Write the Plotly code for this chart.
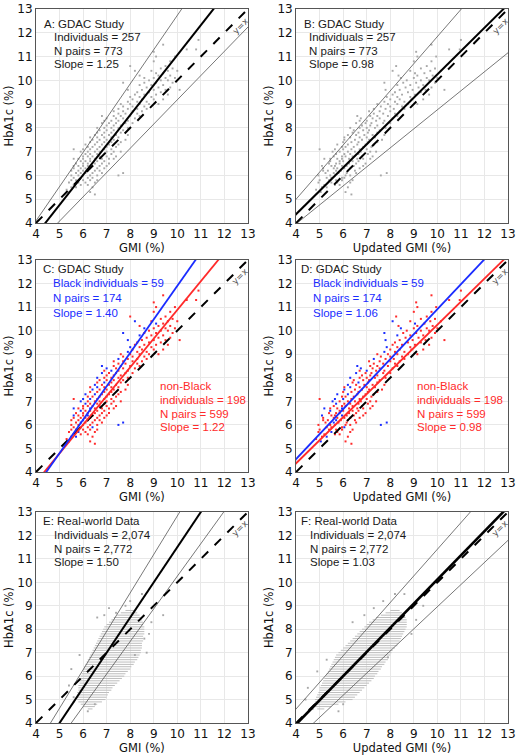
import plotly.graph_objects as go

# ---------------- GDAC study data (HbA1c %, GMI %, updated GMI %, Black flag) ----------------
gdac_hba1c = [
    5.2,
    5.3, 5.3,
    5.4,
    5.5, 5.5, 5.5,
    5.6, 5.6, 5.6,
    5.7, 5.7, 5.7, 5.7,
    5.8, 5.8, 5.8, 5.8, 5.8,
    5.9, 5.9, 5.9, 5.9,
    6.0, 6.0, 6.0, 6.0, 6.0, 6.0,
    6.1, 6.1, 6.1, 6.1, 6.1, 6.1,
    6.2, 6.2, 6.2, 6.2, 6.2, 6.2,
    6.3, 6.3, 6.3, 6.3, 6.3, 6.3,
    6.4, 6.4, 6.4, 6.4, 6.4, 6.4, 6.4,
    6.5, 6.5, 6.5, 6.5, 6.5, 6.5,
    6.6, 6.6, 6.6, 6.6, 6.6,
    6.7, 6.7, 6.7, 6.7, 6.7, 6.7, 6.7, 6.7,
    6.8, 6.8, 6.8, 6.8, 6.8, 6.8,
    6.9, 6.9, 6.9, 6.9, 6.9,
    7.0, 7.0, 7.0, 7.0, 7.0, 7.0, 7.0,
    7.1, 7.1, 7.1, 7.1, 7.1, 7.1,
    7.2, 7.2, 7.2, 7.2, 7.2,
    7.3, 7.3, 7.3, 7.3, 7.3,
    7.4, 7.4, 7.4, 7.4, 7.4,
    7.5, 7.5, 7.5, 7.5, 7.5,
    7.6, 7.6, 7.6, 7.6, 7.6,
    7.7, 7.7, 7.7, 7.7, 7.7,
    7.8, 7.8, 7.8, 7.8,
    7.9, 7.9, 7.9, 7.9,
    8.0, 8.0, 8.0, 8.0, 8.0,
    8.1, 8.1, 8.1,
    8.2, 8.2, 8.2, 8.2, 8.2,
    8.3, 8.3, 8.3, 8.3,
    8.4, 8.4, 8.4, 8.4,
    8.5, 8.5, 8.5, 8.5, 8.5,
    8.6, 8.6, 8.6,
    8.7, 8.7, 8.7, 8.7,
    8.8, 8.8, 8.8, 8.8,
    8.9, 8.9, 8.9,
    9.0, 9.0, 9.0, 9.0, 9.0,
    9.1, 9.1, 9.1,
    9.2, 9.2, 9.2, 9.2,
    9.3, 9.3, 9.3,
    9.4, 9.4, 9.4, 9.4,
    9.5, 9.5, 9.5,
    9.6, 9.6, 9.6, 9.6, 9.6,
    9.7, 9.7, 9.7,
    9.8, 9.8, 9.8,
    9.9, 9.9, 9.9, 9.9,
    10.0, 10.0, 10.0,
    10.1, 10.1, 10.1, 10.1,
    10.2, 10.2, 10.2,
    10.3, 10.3,
    10.4, 10.4, 10.4, 10.4,
    10.5, 10.5,
    10.6, 10.6,
    10.8, 10.8,
    11.0, 11.0,
    11.2,
    11.3, 11.3,
    11.5,
    11.7,
]
gdac_gmi = [
    6.5,
    5.4, 6.3,
    5.3,
    5.5, 6.4, 5.7,
    5.6, 5.9, 6.2,
    5.4, 5.8, 6.1, 6.5,
    5.5, 5.7, 6.0, 6.3, 6.6,
    5.6, 5.9, 6.2, 6.4,
    5.5, 5.8, 6.0, 6.3, 6.6, 7.5,
    5.7, 5.9, 6.1, 6.4, 6.8, 7.7,
    5.5, 5.8, 6.0, 6.2, 6.5, 6.7,
    5.6, 5.9, 6.1, 6.3, 6.6, 6.9,
    5.6, 5.8, 6.0, 6.2, 6.4, 6.7, 7.0,
    5.7, 6.0, 6.2, 6.5, 6.8, 7.1,
    5.9, 6.1, 6.3, 6.6, 6.9,
    5.6, 5.8, 6.0, 6.3, 6.5, 6.8, 7.1, 7.3,
    6.0, 6.2, 6.4, 6.7, 7.0, 7.4,
    6.1, 6.3, 6.6, 6.9, 7.2,
    5.9, 6.2, 6.5, 6.7, 7.0, 7.3, 7.6,
    5.6, 6.0, 6.3, 6.6, 6.9, 7.2,
    6.2, 6.4, 6.7, 7.0, 7.4,
    6.1, 6.5, 6.8, 7.1, 7.5,
    6.3, 6.6, 6.9, 7.2, 7.6,
    6.4, 6.7, 7.0, 7.3, 7.8,
    6.3, 6.6, 6.9, 7.2, 7.5,
    6.5, 6.8, 7.1, 7.4, 7.9,
    6.6, 6.9, 7.2, 7.6,
    6.7, 7.0, 7.3, 7.7,
    6.6, 6.9, 7.2, 7.5, 7.9,
    7.0, 7.3, 7.6,
    6.8, 7.1, 7.4, 7.8, 8.1,
    6.9, 7.2, 7.5, 7.9,
    7.0, 7.4, 7.7, 8.2,
    6.8, 7.3, 7.6, 8.0, 8.4,
    7.5, 7.8, 8.3,
    7.3, 7.7, 8.1, 8.5,
    7.5, 7.9, 8.3, 8.7,
    7.7, 8.1, 8.6,
    7.6, 8.0, 8.4, 8.8, 9.2,
    7.9, 8.3, 8.7,
    8.1, 8.5, 9.0, 9.4,
    8.0, 8.4, 8.9,
    8.2, 8.6, 9.1, 9.6,
    8.3, 8.8, 9.3,
    7.9, 8.5, 9.0, 9.5, 10.1,
    8.7, 9.2, 9.7,
    8.4, 8.9, 9.4,
    7.7, 8.6, 9.1, 9.8,
    8.8, 9.3, 9.6,
    8.6, 9.0, 9.5, 9.9,
    8.4, 9.2, 9.7,
    9.1, 9.4,
    8.2, 8.9, 9.6, 10.0,
    9.3, 9.8,
    8.0, 9.5,
    9.0, 9.7,
    9.1, 9.9,
    9.0,
    10.4, 10.8,
    9.4,
    10.9,
]
gdac_updated_gmi = [
    6.35,
    5.05, 6.10,
    4.85,
    5.10, 6.20, 5.30,
    5.20, 5.65, 5.85,
    4.95, 5.50, 5.75, 6.30,
    5.00, 5.40, 5.70, 5.95, 6.40,
    5.30, 5.50, 5.95, 6.05,
    4.95, 5.45, 5.65, 6.10, 6.30, 7.60,
    5.25, 5.60, 5.80, 6.15, 6.55, 7.85,
    5.15, 5.35, 5.70, 5.90, 6.20, 6.50,
    5.15, 5.60, 5.75, 6.05, 6.30, 6.70,
    5.10, 5.50, 5.65, 5.95, 6.15, 6.45, 6.85,
    5.40, 5.70, 5.85, 6.25, 6.55, 6.95,
    5.45, 5.85, 6.00, 6.40, 6.65,
    5.20, 5.45, 5.75, 5.95, 6.25, 6.60, 6.85, 7.15,
    5.60, 5.95, 6.10, 6.40, 6.80, 7.25,
    5.70, 6.05, 6.30, 6.65, 7.05,
    5.55, 5.85, 6.20, 6.50, 6.75, 7.15, 7.40,
    5.00, 5.65, 6.00, 6.35, 6.70, 7.00,
    5.95, 6.10, 6.45, 6.85, 7.20,
    5.75, 6.20, 6.60, 6.95, 7.30,
    6.00, 6.35, 6.65, 7.05, 7.45,
    6.05, 6.50, 6.80, 7.10, 7.65,
    6.05, 6.30, 6.70, 7.00, 7.35,
    6.20, 6.55, 6.90, 7.25, 7.75,
    6.40, 6.65, 7.05, 7.45,
    6.45, 6.85, 7.10, 7.55,
    6.30, 6.70, 7.00, 7.35, 7.80,
    6.80, 7.15, 7.45,
    6.55, 6.95, 7.20, 7.70, 8.00,
    6.70, 7.00, 7.40, 7.75,
    6.75, 7.25, 7.55, 8.10,
    6.60, 7.15, 7.45, 7.90, 8.30,
    7.30, 7.70, 8.20,
    7.10, 7.55, 8.00, 8.40,
    7.30, 7.80, 8.15, 8.60,
    7.60, 8.00, 8.50,
    7.45, 7.90, 8.30, 8.75, 9.15,
    7.75, 8.20, 8.60,
    8.00, 8.40, 8.90, 9.40,
    7.85, 8.30, 8.85,
    8.10, 8.50, 9.05, 9.65,
    8.20, 8.75, 9.30,
    7.80, 8.40, 8.95, 9.50, 10.30,
    8.65, 9.20, 9.75,
    8.30, 8.85, 9.40,
    7.75, 8.55, 9.10, 9.90,
    8.70, 9.30, 9.65,
    8.45, 9.00, 9.55, 10.00,
    8.35, 9.15, 9.80,
    9.05, 9.45,
    8.10, 8.85, 9.70, 10.15,
    9.30, 9.90,
    8.25, 9.55,
    9.00, 9.75,
    9.15, 9.95,
    9.10,
    10.50, 10.95,
    9.75,
    11.00,
]
gdac_black = [
    0,
    1, 0,
    0,
    0, 0, 1,
    0, 0, 0,
    0, 1, 0, 0,
    0, 0, 0, 0, 0,
    0, 0, 0, 1,
    0, 0, 0, 0, 0, 1,
    0, 1, 0, 0, 0, 1,
    0, 0, 1, 0, 0, 0,
    0, 0, 0, 0, 0, 0,
    1, 0, 0, 1, 0, 0, 0,
    0, 0, 0, 0, 0, 0,
    1, 0, 0, 0, 0,
    1, 0, 0, 1, 0, 0, 0, 0,
    0, 0, 0, 0, 0, 0,
    1, 0, 0, 0, 0,
    1, 0, 0, 0, 0, 0, 0,
    0, 1, 1, 0, 0, 0,
    0, 0, 0, 0, 0,
    1, 1, 0, 0, 0,
    0, 0, 0, 0, 0,
    1, 0, 0, 0, 0,
    0, 1, 0, 0, 0,
    1, 0, 0, 0, 0,
    0, 1, 0, 0,
    0, 0, 0, 0,
    1, 0, 0, 0, 0,
    0, 0, 0,
    1, 0, 0, 0, 0,
    0, 1, 0, 0,
    1, 0, 0, 0,
    1, 0, 0, 0, 0,
    0, 0, 0,
    0, 0, 0, 0,
    1, 0, 0, 0,
    0, 0, 0,
    0, 0, 0, 0, 0,
    1, 0, 0,
    0, 0, 0, 0,
    1, 0, 0,
    0, 0, 0, 0,
    0, 0, 0,
    1, 0, 0, 0, 0,
    0, 0, 0,
    1, 0, 0,
    1, 0, 0, 0,
    0, 0, 0,
    1, 0, 0, 0,
    0, 0, 0,
    1, 0,
    1, 0, 0, 0,
    0, 0,
    0, 0,
    0, 0,
    0, 0,
    0,
    0, 0,
    0,
    0,
]

# ---------------- Real-world data: HbA1c rows (0.1 % steps) and their x extents ----------------
rw_rows = [4.6, 4.7, 4.8, 4.9, 5.0, 5.1, 5.2, 5.3, 5.4, 5.5, 5.6, 5.7, 5.8, 5.9,
           6.0, 6.1, 6.2, 6.3, 6.4, 6.5, 6.6, 6.7, 6.8, 6.9, 7.0, 7.1, 7.2, 7.3,
           7.4, 7.5, 7.6, 7.7, 7.8, 7.9, 8.0, 8.1, 8.2, 8.3, 8.4, 8.5, 8.6, 8.7, 8.8]
rw_gmi_min = [6.2, 6.0, 5.9, 5.8, 5.75, 5.75, 5.75, 5.75, 5.8, 5.8, 5.8, 5.85, 5.85, 5.9,
              5.9, 5.95, 6.0, 6.0, 6.05, 6.1, 6.15, 6.2, 6.25, 6.3, 6.35, 6.4, 6.45, 6.5,
              6.55, 6.6, 6.65, 6.7, 6.75, 6.8, 6.85, 6.9, 7.0, 7.1, 7.2, 7.3, 7.45, 7.6, 7.8]
rw_gmi_max = [6.4, 6.5, 6.6, 6.8, 6.95, 7.0, 7.05, 7.1, 7.2, 7.25, 7.35, 7.45, 7.55, 7.65,
              7.75, 7.8, 7.9, 8.0, 8.05, 8.15, 8.2, 8.3, 8.35, 8.4, 8.45, 8.45, 8.5, 8.5,
              8.5, 8.55, 8.55, 8.55, 8.6, 8.6, 8.6, 8.6, 8.55, 8.55, 8.5, 8.45, 8.4, 8.3, 8.2]
rw_upd_min = [4.9, 4.8, 4.8, 4.8, 4.8, 4.85, 4.9, 4.95, 5.0, 5.0, 5.05, 5.1, 5.15, 5.2,
              5.25, 5.3, 5.35, 5.4, 5.45, 5.5, 5.55, 5.6, 5.65, 5.7, 5.8, 5.9, 6.0, 6.1,
              6.2, 6.3, 6.4, 6.5, 6.6, 6.7, 6.8, 6.9, 7.0, 7.1, 7.25, 7.4, 7.6, 7.8, 8.0]
rw_upd_max = [5.2, 5.5, 5.8, 6.1, 6.4, 6.5, 6.6, 6.7, 6.8, 6.9, 7.0, 7.1, 7.2, 7.3,
              7.35, 7.45, 7.5, 7.6, 7.65, 7.75, 7.8, 7.9, 7.95, 8.0, 8.05, 8.1, 8.2, 8.3,
              8.35, 8.4, 8.45, 8.5, 8.55, 8.6, 8.65, 8.7, 8.7, 8.7, 8.7, 8.65, 8.6, 8.5, 8.4]
rw_sparse_gmi = [5.4, 5.5, 5.6, 5.85, 6.6, 6.9, 7.1, 7.4, 8.0, 8.5, 8.7, 8.8, 8.9, 9.4, 6.5, 7.8, 5.6, 6.2, 8.6, 8.2]
rw_sparse_gmi_h = [5.6, 6.3, 5.1, 6.9, 8.5, 8.6, 8.9, 8.7, 9.2, 9.5, 7.0, 7.8, 8.3, 8.6, 4.8, 9.0, 4.9, 4.5, 7.6, 6.9]
rw_sparse_upd = [4.4, 4.5, 4.7, 4.9, 5.3, 6.4, 6.9, 7.3, 7.7, 8.2, 8.6, 8.9, 9.1, 9.4, 6.0, 7.9, 5.8]
rw_sparse_upd_h = [5.0, 5.5, 4.6, 6.2, 6.7, 8.3, 8.6, 8.9, 9.2, 9.5, 9.5, 7.8, 8.4, 9.0, 4.8, 6.8, 4.5]

# ---------------- Fitted lines: [slope, intercept] ----------------
fit_A = [1.26, -1.54]; upper_A = [1.44, -1.67]; lower_A = [1.02, -1.02]
fit_B = [0.98, 0.45];  upper_B = [1.14, 0.44];  lower_B = [0.80, 0.76]
fit_C_black = [1.42, -2.30]; fit_C_nonblack = [1.218, -1.30]
fit_D_black = [1.06, 0.31];  fit_D_nonblack = [0.98, 0.45]
fit_E = [1.50, -3.50]; upper_E = [1.64, -3.57]; lower_E = [1.39, -3.64]
fit_F = [1.03, -0.18]; upper_F = [1.135, 0.06]; lower_F = [0.944, -0.48]

axis_range = [4, 13]
tick_vals = [4, 5, 6, 7, 8, 9, 10, 11, 12, 13]

BLUE = "#1a2cff"
RED = "#ff2a2a"
GREY_PT = "#a8a8a8"
TXT = "#1a1a1a"
TXT_FONT = "Liberation Sans"

fig = go.Figure()

xdoms = [[0.0, 0.449], [0.551, 1.0]]
ydoms = [[0.7003, 1.0], [0.3515, 0.6485], [0.0, 0.2955]]
panels = []
idx = 0
for r in range(3):
    for c in range(2):
        idx += 1
        panels.append((idx, xdoms[c], ydoms[r], "GMI (%)" if c == 0 else "Updated GMI (%)"))


def ax(i):
    return ("x" if i == 1 else f"x{i}"), ("y" if i == 1 else f"y{i}")


def add_line(i, coef, color, width, dash="solid"):
    xa, ya = ax(i)
    xs = [3.0, 14.0]
    ys = [coef[0] * v + coef[1] for v in xs]
    fig.add_trace(go.Scatter(x=xs, y=ys, mode="lines", xaxis=xa, yaxis=ya,
                             line=dict(color=color, width=width, dash=dash),
                             hoverinfo="skip", showlegend=False))


def add_identity(i):
    xa, ya = ax(i)
    fig.add_trace(go.Scatter(x=axis_range, y=axis_range, mode="lines", xaxis=xa, yaxis=ya,
                             line=dict(color="black", width=2, dash="dash"),
                             hoverinfo="skip", showlegend=False))
    fig.add_annotation(x=12.68, y=12.3, xref=xa, yref=ya, text="y=x", showarrow=False,
                       textangle=-45, borderpad=0,
                       font=dict(family="DejaVu Sans", size=9, color="#555"))


def add_points(i, xs, ys, color, size=2.0):
    xa, ya = ax(i)
    fig.add_trace(go.Scatter(x=xs, y=ys, mode="markers", xaxis=xa, yaxis=ya,
                             marker=dict(color=color, size=size, symbol="square", line=dict(width=0)),
                             hoverinfo="skip", showlegend=False))


def add_rows(i, rows, xmin, xmax):
    xa, ya = ax(i)
    xs, ys = [], []
    for h, a, b in zip(rows, xmin, xmax):
        xs += [a, b, None]
        ys += [h, h, None]
    fig.add_trace(go.Scatter(x=xs, y=ys, mode="lines", xaxis=xa, yaxis=ya,
                             line=dict(color="#bdbdbd", width=1),
                             hoverinfo="skip", showlegend=False))


def add_text(i, xr, yr, text, color=TXT, size=11.5):
    xa, ya = ax(i)
    fig.add_annotation(x=xr, y=yr, xref=f"{xa} domain", yref=f"{ya} domain", text=text,
                       showarrow=False, xanchor="left", yanchor="middle", borderpad=0,
                       font=dict(family=TXT_FONT, size=size, color=color))


blk_gmi = [g for g, b in zip(gdac_gmi, gdac_black) if b == 1]
blk_upd = [g for g, b in zip(gdac_updated_gmi, gdac_black) if b == 1]
blk_h = [h for h, b in zip(gdac_hba1c, gdac_black) if b == 1]
nb_gmi = [g for g, b in zip(gdac_gmi, gdac_black) if b == 0]
nb_upd = [g for g, b in zip(gdac_updated_gmi, gdac_black) if b == 0]
nb_h = [h for h, b in zip(gdac_hba1c, gdac_black) if b == 0]

# Panel A
add_points(1, gdac_gmi, gdac_hba1c, GREY_PT, 1.9)
add_line(1, upper_A, "#555", 0.8)
add_line(1, lower_A, "#555", 0.8)
add_identity(1)
add_line(1, fit_A, "black", 2)
# Panel B
add_points(2, gdac_updated_gmi, gdac_hba1c, GREY_PT, 1.9)
add_line(2, upper_B, "#555", 0.8)
add_line(2, lower_B, "#555", 0.8)
add_identity(2)
add_line(2, fit_B, "black", 2)
# Panel C
add_points(3, nb_gmi, nb_h, RED)
add_points(3, blk_gmi, blk_h, BLUE)
add_identity(3)
add_line(3, fit_C_nonblack, RED, 1.8)
add_line(3, fit_C_black, BLUE, 1.8)
# Panel D
add_points(4, nb_upd, nb_h, RED)
add_points(4, blk_upd, blk_h, BLUE)
add_identity(4)
add_line(4, fit_D_nonblack, RED, 1.8)
add_line(4, fit_D_black, BLUE, 1.8)
# Panel E
add_rows(5, rw_rows, rw_gmi_min, rw_gmi_max)
add_points(5, rw_sparse_gmi, rw_sparse_gmi_h, GREY_PT, 1.9)
add_line(5, upper_E, "#555", 0.8)
add_line(5, lower_E, "#555", 0.8)
add_identity(5)
add_line(5, fit_E, "black", 2)
# Panel F
add_rows(6, rw_rows, rw_upd_min, rw_upd_max)
add_points(6, rw_sparse_upd, rw_sparse_upd_h, GREY_PT, 1.9)
add_line(6, upper_F, "#555", 0.8)
add_line(6, lower_F, "#555", 0.8)
add_identity(6)
add_line(6, fit_F, "black", 2.6)

# Texts (positions in axis-domain fractions)
add_text(1, 0.033, 0.93, "A: GDAC Study")
add_text(1, 0.08, 0.867, "Individuals = 257")
add_text(1, 0.08, 0.804, "N pairs = 773")
add_text(1, 0.08, 0.741, "Slope = 1.25")
add_text(2, 0.033, 0.93, "B: GDAC Study")
add_text(2, 0.057, 0.867, "Individuals = 257")
add_text(2, 0.057, 0.804, "N pairs = 773")
add_text(2, 0.057, 0.741, "Slope = 0.98")
for i, s_b, s_nb, lx, rx in [(3, "1.40", "1.22", 0.028, 0.58), (4, "1.06", "0.98", 0.02, 0.568)]:
    add_text(i, lx, 0.958, ("C" if i == 3 else "D") + ": GDAC Study")
    add_text(i, 0.075, 0.892, "Black individuals = 59", BLUE)
    add_text(i, 0.075, 0.821, "N pairs = 174", BLUE)
    add_text(i, 0.075, 0.75, "Slope = " + s_b, BLUE)
    add_text(i, rx, 0.406, "non-Black", RED)
    add_text(i, rx, 0.340, "individuals = 198", RED)
    add_text(i, rx, 0.274, "N pairs = 599", RED)
    add_text(i, rx, 0.212, "Slope = " + s_nb, RED)
add_text(5, 0.028, 0.957, "E: Real-world Data")
add_text(5, 0.08, 0.893, "Individuals = 2,074")
add_text(5, 0.08, 0.827, "N pairs = 2,772")
add_text(5, 0.08, 0.761, "Slope = 1.50")
add_text(6, 0.02, 0.957, "F: Real-world Data")
add_text(6, 0.061, 0.893, "Individuals = 2,074")
add_text(6, 0.061, 0.827, "N pairs = 2,772")
add_text(6, 0.061, 0.761, "Slope = 1.03")

layout = dict(
    width=520, height=756,
    margin=dict(l=36, r=12, t=9, b=33),
    paper_bgcolor="white", plot_bgcolor="white",
    showlegend=False,
)
for i, xd, yd, xt in panels:
    xa, ya = ax(i)
    xk = "xaxis" if i == 1 else f"xaxis{i}"
    yk = "yaxis" if i == 1 else f"yaxis{i}"
    common = dict(range=axis_range, tickvals=tick_vals, showgrid=True, gridcolor="#e8e8e8",
                  gridwidth=1, showline=True, linecolor="#555", linewidth=1, mirror=True,
                  zeroline=False, ticks="", automargin=False,
                  tickfont=dict(family="DejaVu Sans", size=12, color="#111"))
    layout[xk] = dict(domain=xd, anchor=ya,
                      title=dict(text=xt, standoff=0, font=dict(family="DejaVu Sans", size=11.5, color="#111")),
                      **common)
    layout[yk] = dict(domain=yd, anchor=xa,
                      title=dict(text="HbA1c (%)", standoff=1, font=dict(family="DejaVu Sans", size=11.5, color="#111")),
                      **common)
fig.update_layout(**layout)

fig.write_html("out.html")
